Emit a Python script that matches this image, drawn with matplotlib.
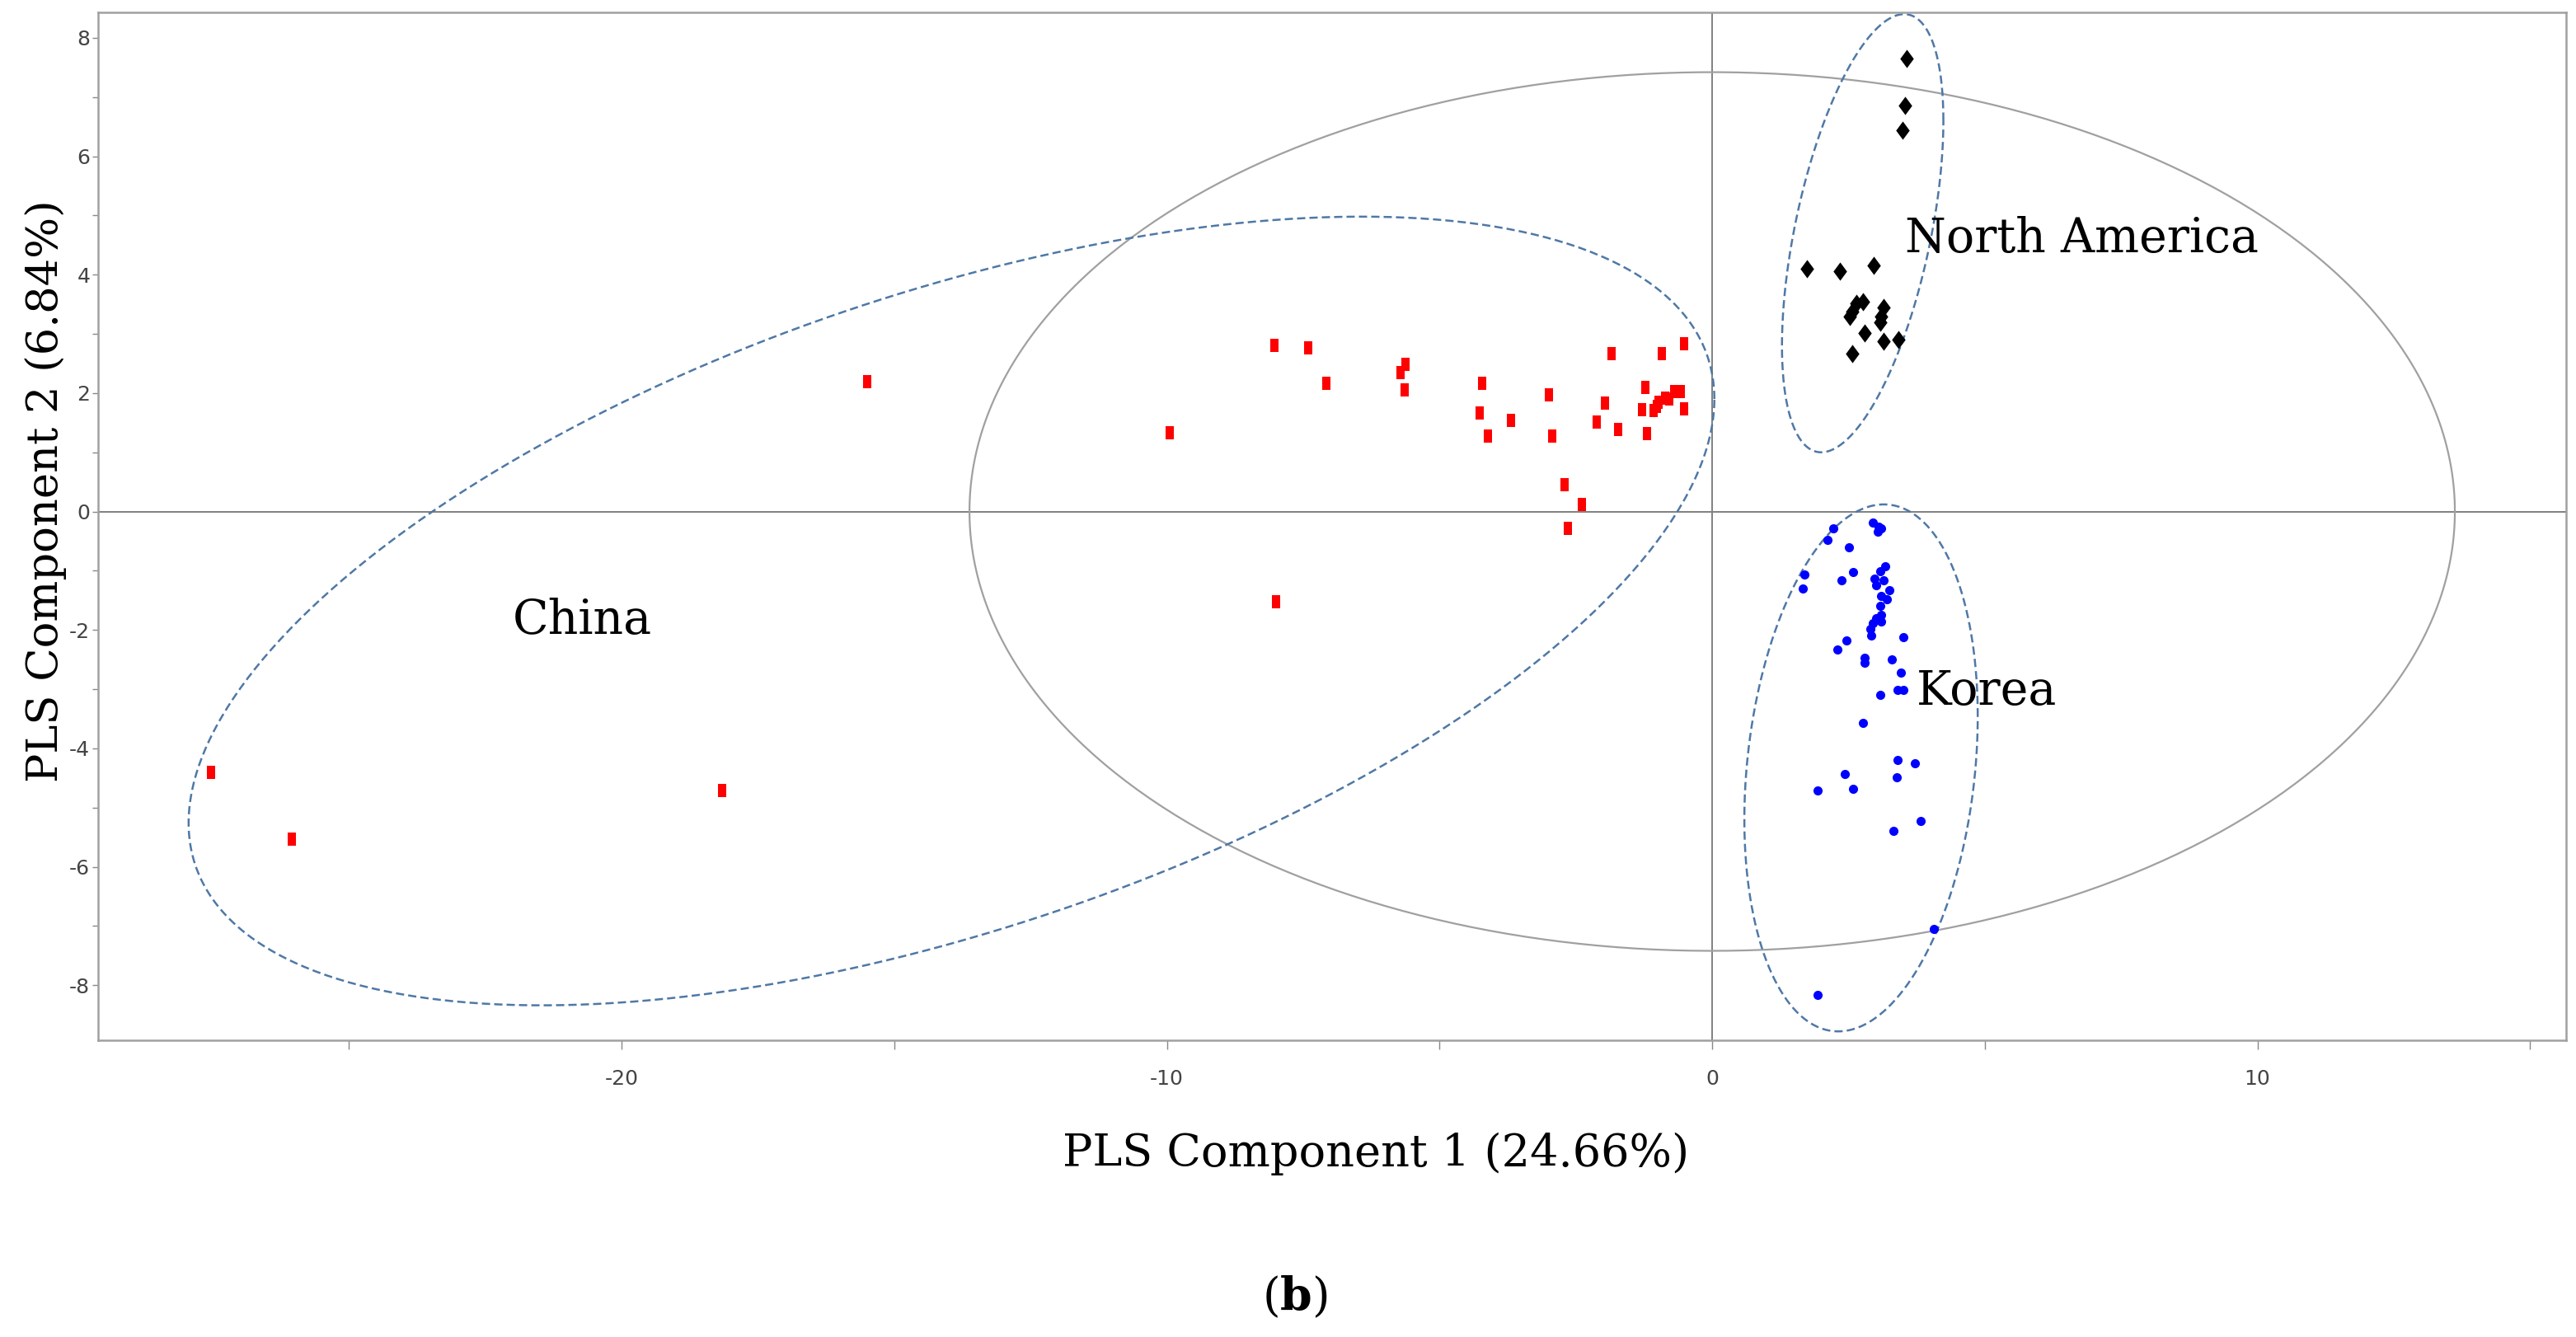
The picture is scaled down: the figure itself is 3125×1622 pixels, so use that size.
import numpy as np
import matplotlib
matplotlib.use("Agg")
import matplotlib.pyplot as plt

plt.rcParams['axes.unicode_minus'] = False
plt.rcParams['mathtext.fontset'] = 'dejavuserif'

# PLS scores
china_x = np.array([-27.53, -26.04, -18.15, -15.5, -9.95, -8.03, -7.41, -7.08, -8.0, -5.62,
                    -5.72, -5.64, -4.22, -4.26, -4.11, -3.69, -2.99, -2.93, -2.70, -2.39,
                    -2.64, -1.97, -2.11, -1.72, -1.84, -0.93, -0.52, -1.23, -1.29, -1.19,
                    -1.07, -0.98, -0.86, -0.70, -0.57, -0.51, -1.02, -0.78])
china_y = np.array([-4.40, -5.54, -4.71, 2.2, 1.33, 2.80, 2.76, 2.16, -1.52, 2.49,
                    2.34, 2.05, 2.16, 1.66, 1.27, 1.54, 1.97, 1.27, 0.45, 0.12,
                    -0.29, 1.83, 1.51, 1.38, 2.66, 2.66, 2.84, 2.09, 1.72, 1.32,
                    1.70, 1.85, 1.92, 2.02, 2.02, 1.74, 1.78, 1.90])

na_x = np.array([3.57, 3.54, 3.49, 1.73, 2.34, 2.96, 2.65, 2.77, 2.57, 2.52,
                 3.15, 3.10, 3.08, 2.79, 3.14, 3.41, 2.57])
na_y = np.array([7.65, 6.86, 6.44, 4.10, 4.06, 4.16, 3.52, 3.55, 3.38, 3.29,
                 3.45, 3.29, 3.20, 3.01, 2.87, 2.90, 2.67])

korea_x = np.array([2.22, 2.12, 2.51, 2.95, 3.05, 3.10, 3.03, 1.69, 1.66, 2.37,
                    2.59, 3.18, 3.08, 2.98, 3.15, 3.00, 3.25, 3.10, 3.20, 3.08,
                    3.10, 3.00, 2.95, 3.10, 2.90, 2.92, 2.47, 2.29, 3.50, 2.79,
                    2.79, 3.29, 3.46, 3.40, 3.50, 3.08, 2.76, 3.40, 3.72, 3.39,
                    2.44, 2.59, 1.94, 3.82, 3.32, 4.07, 1.94])
korea_y = np.array([-0.28, -0.48, -0.61, -0.19, -0.25, -0.28, -0.34, -1.07, -1.30, -1.16,
                    -1.02, -0.92, -1.01, -1.13, -1.16, -1.24, -1.33, -1.42, -1.48, -1.60,
                    -1.74, -1.80, -1.89, -1.86, -1.98, -2.09, -2.18, -2.33, -2.12, -2.47,
                    -2.56, -2.50, -2.72, -3.01, -3.01, -3.10, -3.57, -4.20, -4.25, -4.49,
                    -4.43, -4.68, -4.71, -5.22, -5.40, -7.05, -8.16])

# ellipses: centre, half width, half height, y where x is largest
t2_ell = [0.0, 0.0, 13.62, 7.42, 0.0]
china_ell = [-13.95, -1.68, 13.99, 6.66, 1.9]
na_ell = [2.76, 4.70, 1.48, 3.70, 6.6]
korea_ell = [2.73, -4.33, 2.14, 4.45, -3.46]

x_major = [-20, -10, 0, 10]
x_minor = [-25, -15, -5, 5, 15]
y_major = np.arange(-8, 9, 2)
y_minor = np.arange(-7, 8, 2)


def ellipse_xy(cx, cy, hw, hh, y_at_xmax):
    sxy = hw * (y_at_xmax - cy)
    S = np.array([[hw ** 2, sxy], [sxy, hh ** 2]])
    L = np.linalg.cholesky(S)
    t = np.linspace(0, 2 * np.pi, 500)
    pts = L @ np.vstack([np.cos(t), np.sin(t)])
    return cx + pts[0], cy + pts[1]


rect = [(-0.65, -1), (0.65, -1), (0.65, 1), (-0.65, 1), (-0.65, -1)]
diamond = [(0, 1), (0.74, 0), (0, -1), (-0.74, 0), (0, 1)]

fig = plt.figure(figsize=(31.25, 16.22), dpi=100)
ax = fig.add_axes([119 / 3125, 1 - 1262 / 1622, 2994 / 3125, 1247 / 1622])

ax.axhline(0, color='#808080', lw=1.4, zorder=1)
ax.axvline(0, color='#808080', lw=1.4, zorder=1)

ex, ey = ellipse_xy(*t2_ell)
ax.plot(ex, ey, color='#a0a0a0', lw=1.6, zorder=2)
for e in [china_ell, na_ell, korea_ell]:
    ex, ey = ellipse_xy(*e)
    ax.plot(ex, ey, color='#4f78a6', lw=1.8, ls=(0, (4, 2)), zorder=2)

ax.plot(china_x, china_y, ls='none', marker=rect, ms=12, color='#ff0000', mec='#ff0000', mew=0, zorder=3)
ax.plot(na_x, na_y, ls='none', marker=diamond, ms=16, color='black', mec='black', mew=0, zorder=3)
ax.plot(korea_x, korea_y, ls='none', marker='o', ms=8, color='#0000ff', mec='#0000ff', mew=0, zorder=3)

ax.text(3.53, 4.38, "North America", fontsize=41, family='DejaVu Serif', va='baseline')
ax.text(-22.0, -2.06, "China", fontsize=41, family='DejaVu Serif', va='baseline')
ax.text(3.75, -3.27, "Korea", fontsize=41, family='DejaVu Serif', va='baseline')

ax.set_xlim(-29.6, 15.66)
ax.set_ylim(-8.93, 8.43)
ax.set_xticks(x_major)
ax.set_xticks(x_minor, minor=True)
ax.set_yticks(y_major)
ax.set_yticks(y_minor, minor=True)
ax.tick_params(axis='x', which='both', direction='out', length=8, width=1, color='#888888',
               labelsize=18, labelcolor='#444444', pad=17)
ax.tick_params(axis='y', which='both', direction='out', length=5, width=1, color='#888888',
               labelsize=18, labelcolor='#444444', pad=2)
for s in ax.spines.values():
    s.set_color('#a0a0a0')
    s.set_linewidth(1.8)

fig.text(1669 / 3125, 1 - 1400 / 1622, "PLS Component 1 (24.66%)", fontsize=39,
         family='DejaVu Serif', ha='center', va='center')
fig.text(56 / 3125, 1 - 596 / 1622, "PLS Component 2 (6.84%)", fontsize=38,
         family='DejaVu Serif', ha='center', va='center', rotation=90)
fig.text(1571 / 3125, 1 - 1574 / 1622, r"($\mathbf{b}$)", fontsize=40,
         family='DejaVu Serif', ha='center', va='center')

fig.savefig("out.png", dpi=100)
